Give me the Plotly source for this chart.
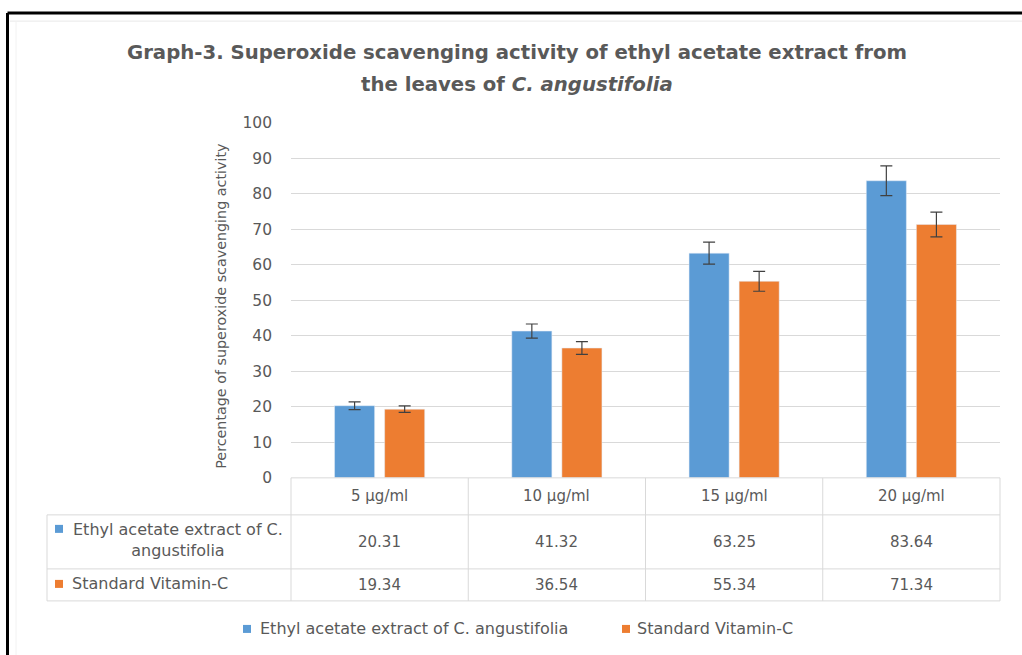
import plotly.graph_objects as go

categories = ["5 µg/ml", "10 µg/ml", "15 µg/ml", "20 µg/ml"]
series_names = ["Ethyl acetate extract of C. angustifolia", "Standard Vitamin-C"]
extract_values = [20.31, 41.32, 63.25, 83.64]
vitc_values = [19.34, 36.54, 55.34, 71.34]
extract_errors = [1.1, 2.0, 3.1, 4.2]
vitc_errors = [0.9, 1.8, 2.8, 3.5]
y_ticks = [0, 10, 20, 30, 40, 50, 60, 70, 80, 90, 100]

W, H = 1022, 655
BLUE, ORANGE = "#5B9BD5", "#ED7D31"
TXT = "#595959"
GRID = "#D9D9D9"
FONT = "DejaVu Sans"

# the viewer maps page y -> 0.972*y + 8.4 ; pre-compensate vertical positions
SY, OY = 0.972, 8.4

def X(px):
    return px / W

def Y(py):
    return 1 - ((py - OY) / SY) / H

PL, PR, PT, PB = 291, 1000, 122, 477

fig = go.Figure()
fig.add_trace(go.Bar(
    x=categories, y=extract_values, name=series_names[0], marker_color=BLUE,
    error_y=dict(type="data", array=extract_errors, color="#404040", thickness=1.2, width=6),
))
fig.add_trace(go.Bar(
    x=categories, y=vitc_values, name=series_names[1], marker_color=ORANGE,
    error_y=dict(type="data", array=vitc_errors, color="#404040", thickness=1.2, width=6),
))

shapes = []
def line(x0, y0, x1, y1, color=GRID, w=1):
    shapes.append(dict(type="line", xref="paper", yref="paper", x0=X(x0), y0=Y(y0),
                       x1=X(x1), y1=Y(y1), line=dict(color=color, width=w)))

def square(x0, y0, size, color):
    shapes.append(dict(type="rect", xref="paper", yref="paper", x0=X(x0), x1=X(x0 + size),
                       y0=Y(y0), y1=Y(y0 + size), fillcolor=color, line=dict(width=0)))

# table lines
col_edges = [PL + (PR - PL) * i / len(categories) for i in range(len(categories) + 1)]
for xe in col_edges:
    line(xe, PB, xe, 600)
line(47, 514, 47, 600)
line(PL, PB, PR, PB)
for yy in [514, 568, 600]:
    line(47, yy, PR, yy)

# frame
line(7.5, 12.5, W, 12.5, color="black", w=3)
line(7.5, 12.5, 7.5, 700, color="black", w=3)
line(10, 20.5, W, 20.5, color="#E8E8E8", w=1)
line(16, 20.5, 16, 700, color="#F2F2F2", w=1)

annotations = []
def ann(text, x, y, size=15, xanchor="center", align="center", angle=0, color=TXT):
    annotations.append(dict(text=text, x=X(x), y=Y(y), xref="paper", yref="paper",
                            showarrow=False, xanchor=xanchor, yanchor="middle", align=align,
                            textangle=angle, font=dict(family=FONT, size=size, color=color)))

# title (two lines)
ann("<b>Graph-3. Superoxide scavenging activity of ethyl acetate extract from</b>", 517, 52, size=19.7)
ann("<b>the leaves of <i>C. angustifolia</i></b>", 517, 84, size=19.7)

# y-axis title
ann("Percentage of superoxide scavenging activity", 221, 305, size=14.3, angle=-90)

# table content
centers = [(col_edges[i] + col_edges[i + 1]) / 2 for i in range(len(categories))]
for i, c in enumerate(categories):
    ann(c, centers[i], 495)
    ann(f"{extract_values[i]:.2f}", centers[i], 541)
    ann(f"{vitc_values[i]:.2f}", centers[i], 584)
square(55, 524, 8, BLUE)
ann("Ethyl acetate extract of C.<br>angustifolia", 178, 539, size=16)
square(55, 579, 8, ORANGE)
ann("Standard Vitamin-C", 70, 583, size=16, xanchor="left", align="left")

# legend (drawn like the original chart legend)
square(243, 624, 8, BLUE)
ann(series_names[0], 258, 628, size=16, xanchor="left", align="left")
square(622, 624, 8, ORANGE)
ann(series_names[1], 635, 628, size=16, xanchor="left", align="left")

fig.update_layout(
    width=W, height=H, autosize=False, margin=dict(l=0, r=0, t=0, b=0),
    paper_bgcolor="white", plot_bgcolor="white",
    barmode="group", bargap=0.435, bargroupgap=0.2,
    showlegend=False,
    xaxis=dict(domain=[X(PL), X(PR)], showticklabels=False, showgrid=False, zeroline=False,
               showline=False, ticks=""),
    yaxis=dict(domain=[Y(PB), Y(PT)], range=[0, 100], tickvals=y_ticks, showgrid=True,
               gridcolor=GRID, gridwidth=1, zeroline=False, showline=False, ticks="",
               ticklabelstandoff=18, tickfont=dict(family=FONT, size=15.5, color=TXT)),
    shapes=shapes, annotations=annotations,
    font=dict(family=FONT, color=TXT),
)

fig.write_html("out.html", config={"displayModeBar": False, "responsive": False},
               post_script="document.body.style.margin='0';document.body.style.overflow='hidden';")
